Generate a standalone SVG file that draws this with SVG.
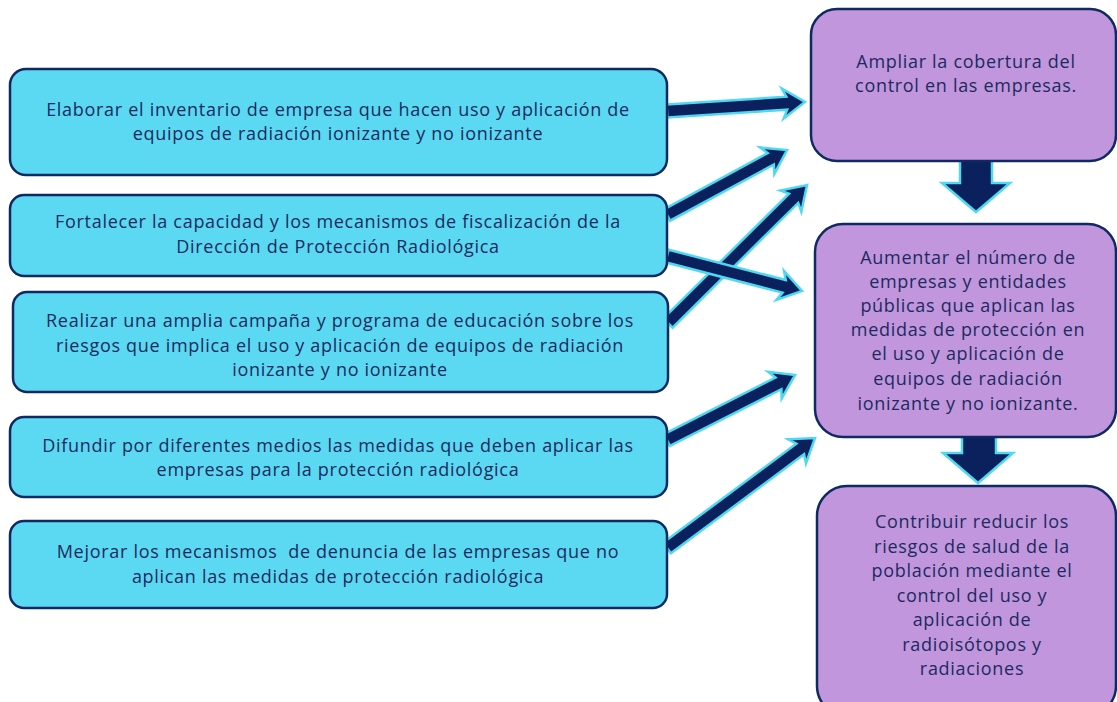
<svg xmlns="http://www.w3.org/2000/svg" width="1117" height="702" viewBox="0 0 1117 702">
<style>
.bl{fill:#5bd9f2;stroke:#0f2a63;stroke-width:2.5}
.bp{fill:#c196dd;stroke:#0f2a63;stroke-width:2.5}
.ar{fill:#0b215e;stroke:#4fd8f2;stroke-width:2.5;stroke-linejoin:miter}
text{font-family:"Open Sans","Noto Sans",sans-serif;font-size:18px;letter-spacing:0.7px;fill:#1b2b5e;text-anchor:middle}
</style>
<rect width="1117" height="702" fill="#ffffff"/>
<g id="connectors">
<path class="ar" d="M0,-6.5 L120,-6.5 L116,-15 L138.3,0 L116,15 L120,6.5 L0,6.5 Z" transform="translate(667,111) rotate(-3.73)"/>
<path class="ar" d="M0,-6.5 L118,-6.5 L114,-15 L136.5,0 L114,15 L118,6.5 L0,6.5 Z" transform="translate(667,215) rotate(-28.44)"/>
<path class="ar" d="M0,-6.5 L177,-6.5 L173,-15 L195.9,0 L173,15 L177,6.5 L0,6.5 Z" transform="translate(668,323) rotate(-44.79)"/>
<path class="ar" d="M0,-6.5 L121,-6.5 L117,-15 L139.5,0 L117,15 L121,6.5 L0,6.5 Z" transform="translate(667,256) rotate(14.53)"/>
<path class="ar" d="M0,-6.5 L125,-6.5 L121,-15 L143.6,0 L121,15 L125,6.5 L0,6.5 Z" transform="translate(667,440) rotate(-26.92)"/>
<path class="ar" d="M0,-6.5 L166,-6.5 L162,-15 L184.4,0 L162,15 L166,6.5 L0,6.5 Z" transform="translate(667,548) rotate(-36.62)"/>
<path class="ar" d="M960,160 L992,160 L992,183 L1010,183 L976,212 L942,183 L960,183 Z"/>
<path class="ar" d="M962,436 L996,436 L996,453 L1013,453 L978,483 L943,453 L962,453 Z"/>
</g>
<g id="n1"><rect class="bl" x="10" y="69" width="657" height="106" rx="16"/>
<text x="338" y="116">Elaborar el inventario de empresa que hacen uso y aplicación de</text>
<text x="338" y="140">equipos de radiación ionizante y no ionizante</text></g>
<g id="n2"><rect class="bl" x="10" y="195" width="657" height="81" rx="14"/>
<text x="338" y="228">Fortalecer la capacidad y los mecanismos de fiscalización de la</text>
<text x="338" y="253">Dirección de Protección Radiológica</text></g>
<g id="n3"><rect class="bl" x="13" y="292" width="655" height="100" rx="14"/>
<text x="340" y="327">Realizar una amplia campaña y programa de educación sobre los</text>
<text x="340" y="352">riesgos que implica el uso y aplicación de equipos de radiación</text>
<text x="340" y="376">ionizante y no ionizante</text></g>
<g id="n4"><rect class="bl" x="10" y="417" width="657" height="80" rx="14"/>
<text x="338" y="452">Difundir por diferentes medios las medidas que deben aplicar las</text>
<text x="338" y="476">empresas para la protección radiológica</text></g>
<g id="n5"><rect class="bl" x="10" y="521" width="657" height="87" rx="14"/>
<text x="338" y="558" xml:space="preserve">Mejorar los mecanismos  de denuncia de las empresas que no</text>
<text x="338" y="583">aplican las medidas de protección radiológica</text></g>
<g id="r1"><rect class="bp" x="811" y="9" width="305" height="152" rx="26"/>
<text x="966" y="68">Ampliar la cobertura del</text>
<text x="966" y="92">control en las empresas.</text></g>
<g id="r2"><rect class="bp" x="815" y="224" width="301" height="213" rx="28"/>
<text x="968" y="264">Aumentar el número de</text>
<text x="968" y="288">empresas y entidades</text>
<text x="968" y="312">públicas que aplican las</text>
<text x="968" y="336">medidas de protección en</text>
<text x="968" y="360">el uso y aplicación de</text>
<text x="968" y="385">equipos de radiación</text>
<text x="968" y="410">ionizante y no ionizante.</text></g>
<g id="r3"><rect class="bp" x="817" y="486" width="299" height="230" rx="30"/>
<text x="972" y="528">Contribuir reducir los</text>
<text x="972" y="553">riesgos de salud de la</text>
<text x="972" y="577">población mediante el</text>
<text x="972" y="602">control del uso y</text>
<text x="972" y="626">aplicación de</text>
<text x="972" y="651">radioisótopos y</text>
<text x="972" y="675">radiaciones</text></g>
</svg>
